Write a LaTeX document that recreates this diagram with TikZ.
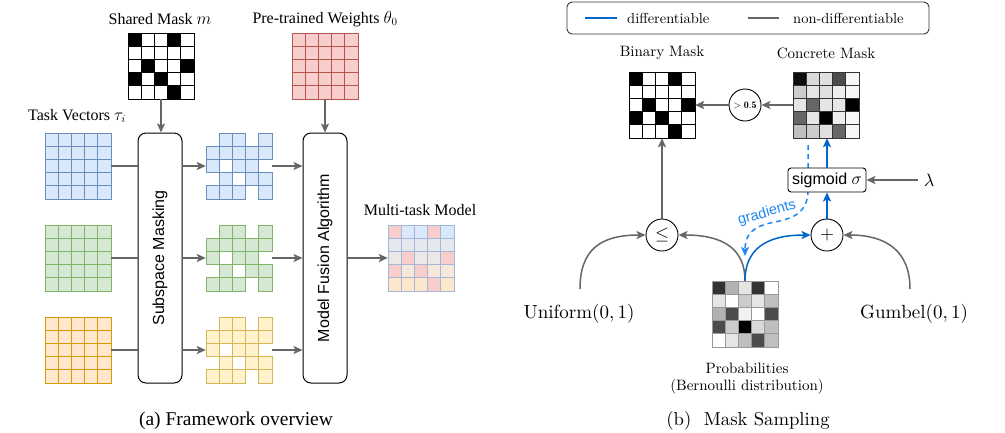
\documentclass[tikz,border=0pt]{standalone}
\usepackage{fontspec}
\newfontfamily\timesf{Liberation Serif}
\newfontfamily\arialf{Liberation Sans}
\usetikzlibrary{arrows.meta,calc}
\definecolor{gline}{HTML}{666666}
\definecolor{dblue}{HTML}{0066CC}
\definecolor{lblue}{HTML}{1E88F0}
\definecolor{bF}{HTML}{DAE8FC}\definecolor{bD}{HTML}{6C8EBF}
\definecolor{gF}{HTML}{D5E8D4}\definecolor{gD}{HTML}{82B366}
\definecolor{oF}{HTML}{FFE6CC}\definecolor{oD}{HTML}{D79B00}
\definecolor{yF}{HTML}{FFF2CC}\definecolor{yD}{HTML}{D6B656}
\definecolor{rF}{HTML}{F8CECC}\definecolor{rD}{HTML}{B85450}
\definecolor{mtR}{HTML}{F8CECC}
\definecolor{mtB}{HTML}{DAE8FC}
\definecolor{mtM}{HTML}{E6E8F0}
\definecolor{mtN}{HTML}{ECE8E8}
\definecolor{mtO}{HTML}{F6E8DA}
\definecolor{mtP}{HTML}{FCE6CC}
\definecolor{mtD}{HTML}{A6B6D8}
\def\mycell{13.2}
\def\maskpat{{1,0,0,1,0},{0,0,0,0,0},{0,1,0,0,1},{1,0,1,0,0},{0,0,0,1,0}}
\def\nopat{{0,0,0,0,0},{0,0,0,0,0},{0,0,0,0,0},{0,0,0,0,0},{0,0,0,0,0}}
% colored grid: x0,y0,fill,draw,pattern (1 = masked out)
\newcommand\colgrid[5]{%
  \foreach \row [count=\r from 0] in #5 {
    \foreach \v [count=\c from 0] in \row {
      \ifnum\v=0
        \draw[fill=#3,draw=#4,line width=1pt] ({#1+\c*\mycell},{#2+\r*\mycell}) rectangle ++(\mycell,\mycell);
      \fi
    }
  }}
% binary grid
\newcommand\bingrid[2]{%
  \foreach \row [count=\r from 0] in \maskpat {
    \foreach \v [count=\c from 0] in \row {
      \ifnum\v=1 \def\fc{black}\else\def\fc{white}\fi
      \draw[fill=\fc,draw=black,line width=1pt] ({#1+\c*\mycell},{#2+\r*\mycell}) rectangle ++(\mycell,\mycell);
    }
  }}
% gray grid: x0,y0,draw colour,values (percent black)
\newcommand\graygrid[4]{%
  \foreach \row [count=\r from 0] in {#4} {
    \foreach \v [count=\c from 0] in \row {
      \draw[fill=black!\v,draw=#3,line width=1pt] ({#1+\c*\mycell},{#2+\r*\mycell}) rectangle ++(\mycell,\mycell);
    }
  }}
\newcommand\mtgrid[2]{%
  \foreach \row [count=\r from 0] in {{R,B,B,R,B},{M,M,M,M,M},{N,R,N,N,R},{R,O,R,O,O},{P,P,P,R,P}} {
    \foreach \v [count=\c from 0] in \row {
      \draw[fill=mt\v,draw=mtD,line width=1pt] ({#1+\c*\mycell},{#2+\r*\mycell}) rectangle ++(\mycell,\mycell);
    }
  }}
\tikzset{
  gbox/.style={rectangle,minimum width=66pt,minimum height=66pt,inner sep=0pt,draw=none},
  tlab/.style={font=\timesf\fontsize{16}{19}\selectfont,inner sep=0pt},
  lmlab/.style={font=\fontsize{10}{12}\selectfont,inner sep=0pt},
  procbox/.style={draw=black,line width=1pt,rounded corners=8pt,fill=white,minimum width=44pt,minimum height=250pt,inner sep=0pt},
  sanslab/.style={font=\arialf\fontsize{16}{19}\selectfont,inner sep=0pt},
  circ/.style={draw=black,line width=0.9pt,circle,minimum size=32pt,inner sep=0pt,fill=white},
  garr/.style={draw=gline,line width=1.5pt,-{Stealth[length=9pt,width=8pt,inset=2pt]}},
  gplain/.style={draw=gline,line width=1.5pt},
  barr/.style={draw=dblue,line width=1.5pt,-{Stealth[length=9pt,width=8pt,inset=2pt]}},
  darr/.style={draw=lblue,line width=1.5pt,dashed,dash pattern=on 5pt off 4pt,-{Stealth[length=9pt,width=8pt,inset=2pt]}},
}
\begin{document}
\begin{tikzpicture}[x=1pt,y=-1pt]
\useasboundingbox (0,0) rectangle (1005,432);
\fill[white] (0,0) rectangle (1005,432);

% ---------------- (a) ----------------
\bingrid{128}{33}
\node[gbox] (mask) at (161,66) {};
\colgrid{292}{33}{rF}{rD}{\nopat}
\node[gbox] (wts) at (325,66) {};
\node[tlab] (lmask) at (160,19) {Shared Mask $m$};
\node[tlab] (lwts) at (325,19) {Pre-trained Weights $\theta_0$};
\node[tlab] (ltv) at (77,116) {Task Vectors $\tau_i$};

\colgrid{45}{133}{bF}{bD}{\nopat}
\colgrid{45}{225}{gF}{gD}{\nopat}
\colgrid{45}{317}{oF}{oD}{\nopat}
\node[gbox] (tv1) at (78,166) {};
\node[gbox] (tv2) at (78,258) {};
\node[gbox] (tv3) at (78,350) {};

\colgrid{206}{133}{bF}{bD}{\maskpat}
\colgrid{206}{225}{gF}{gD}{\maskpat}
\colgrid{206}{317}{yF}{yD}{\maskpat}
\node[gbox] (mk1) at (239,166) {};
\node[gbox] (mk2) at (239,258) {};
\node[gbox] (mk3) at (239,350) {};

\mtgrid{388}{225}
\node[gbox] (mt) at (421,258) {};
\node[tlab] (lmt) at (420,210) {Multi-task Model};

\node[procbox] (sub) at (160,258) {};
\node[sanslab,rotate=90] (subt) at (sub.center) {Subspace Masking};
\node[procbox] (fus) at (325,258) {};
\node[sanslab,rotate=90] (fust) at (fus.center) {Model Fusion Algorithm};

\draw[garr] (mask.south) -- (mask.south |- sub.north);
\draw[garr] (wts.south) -- (wts.south |- fus.north);
\foreach \i in {1,2,3} {
  \draw[gplain] (tv\i.east) -- (tv\i.east -| sub.west);
  \draw[garr] (mk\i.west -| sub.east) -- (mk\i.west);
  \draw[garr] (mk\i.east) -- (mk\i.east -| fus.west);
}
\draw[garr] (mt.west -| fus.east) -- (mt.west);

\node[tlab,font=\timesf\fontsize{19.5}{23}\selectfont] (capa) at (236,421) {(a) Framework overview};

% ---------------- (b) ----------------
\node[draw=black!80,line width=0.9pt,rounded corners=5pt,minimum width=362pt,minimum height=32pt,inner sep=0pt] (legend) at (748,18) {};
\coordinate (l1a) at (585,18); \coordinate (l1b) at (617,18);
\coordinate (l2a) at (748,18); \coordinate (l2b) at (779,18);
\draw[dblue,line width=1.5pt] (l1a) -- (l1b);
\draw[gline,line width=1.5pt] (l2a) -- (l2b);
\node[lmlab,anchor=west] (ld) at (627,18) {\scalebox{1.45}{differentiable}};
\node[lmlab,anchor=west] (lnd) at (793,18) {\scalebox{1.45}{non-differentiable}};

\bingrid{629}{72}
\node[gbox] (bin) at (662,105) {};
\node[lmlab] (lbin) at (662,53) {\scalebox{1.5}{Binary Mask}};

\graygrid{793}{72}{black!80}{{95,15,12,70,3},{20,10,12,7,3},{10,60,10,10,100},{60,10,100,7,3},{25,20,12,60,3}}
\node[gbox] (conc) at (826,105) {};
\node[lmlab] (lconc) at (826,53) {\scalebox{1.5}{Concrete Mask}};

\graygrid{712}{281}{black!40}{{80,30,10,80,0},{10,0,20,10,25},{30,70,5,0,70},{70,20,100,15,25},{0,10,25,70,25}}
\node[gbox] (prob) at (745,314) {};
\node[lmlab] (lprob) at (747,368) {\scalebox{1.5}{Probabilities}};
\node[lmlab] (lbern) at (747,387) {\scalebox{1.5}{(Bernoulli distribution)}};

\node[circ,font=\fontsize{10}{12}\selectfont] (thr) at (745,105) {$>\mathbf{0.5}$};
\node[circ,font=\fontsize{10}{12}\selectfont] (le) at (662,235) {\scalebox{1.8}{$\leq$}};
\node[circ,font=\fontsize{10}{12}\selectfont] (plus) at (827,235) {\scalebox{1.8}{$+$}};

% dashed gradients path (behind sigmoid box)
\coordinate (dtop) at (808,145);
\coordinate (dmid) at (808,192);
\coordinate (dknee) at (775,222);
\coordinate (dend) at (745,256);
\draw[darr] (dtop) -- (dmid) .. controls (807,212) and (795,218) .. (dknee) .. controls (752,226) and (745,235) .. (dend);
\node[font=\arialf\fontsize{14.5}{17}\selectfont,text=lblue,rotate=16,inner sep=0pt] (grad) at (767,213) {gradients};

\node[draw=black,line width=0.9pt,rounded corners=3pt,fill=white,minimum width=78pt,minimum height=24pt,inner sep=0pt,font=\arialf\fontsize{16}{19}\selectfont] (sig) at (827,180) {sigmoid $\sigma$};
\node[font=\fontsize{10}{12}\selectfont,inner sep=6pt] (lam) at (929,180) {\scalebox{1.8}{$\lambda$}};

\node[lmlab] (unif) at (579,314) {\scalebox{1.9}{$\mathrm{Uniform}(0,1)$}};
\node[lmlab] (gum) at (914,314) {\scalebox{1.9}{$\mathrm{Gumbel}(0,1)$}};
\coordinate (us) at (580,289);
\coordinate (gs) at (910,289);

\draw[garr] (conc.west) -- (thr.east);
\draw[garr] (thr.west) -- (bin.east);
\draw[barr] (sig.north) -- (sig.north |- conc.south);
\draw[barr] (plus.north) -- (sig.south);
\draw[garr] (le.north) -- (bin.south);
\draw[garr] (lam.west) -- (sig.east);
\draw[garr] (us) .. controls (580,250) and (600,235) .. (le.west);
\draw[garr] (gs) .. controls (910,250) and (885,235) .. (plus.east);
\draw[garr] (prob.north) .. controls (745,250) and (725,235) .. (le.east);
\draw[barr] (prob.north) .. controls (745,250) and (765,235) .. (plus.west);

\node[lmlab] (capb) at (748,421) {\scalebox{1.87}{(b)\ \ Mask Sampling}};
\end{tikzpicture}
\end{document}
